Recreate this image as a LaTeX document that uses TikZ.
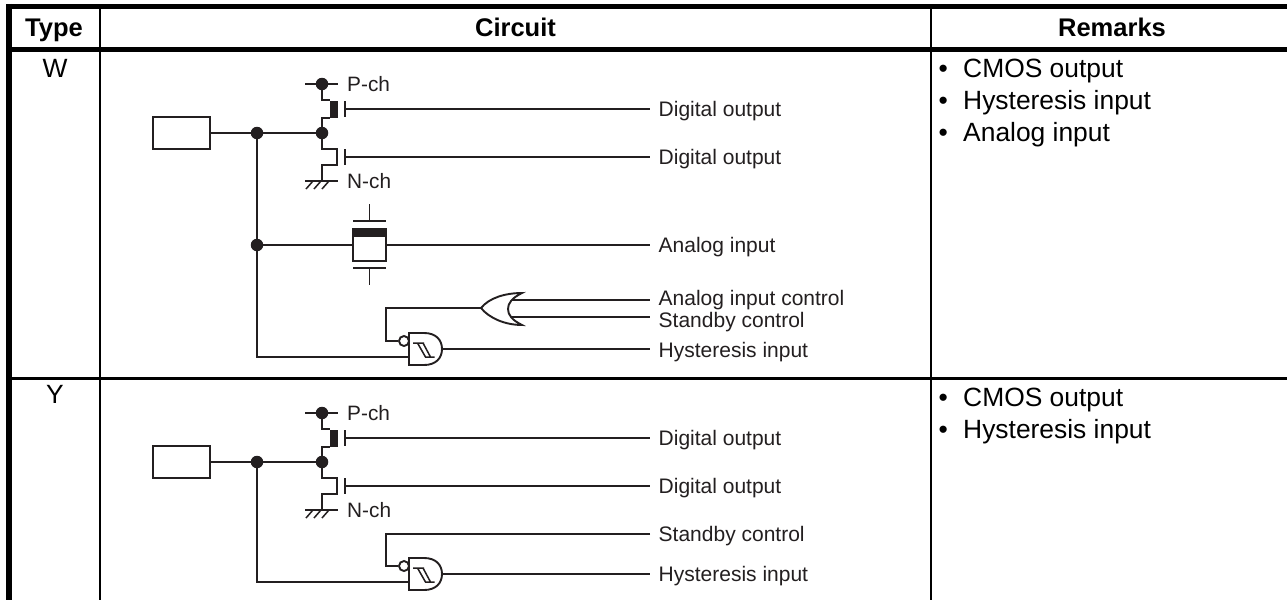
\documentclass[tikz,border=0pt]{standalone}
\usepackage{fontspec}
\setmainfont{Liberation Sans}
\tikzset{
  x=1pt,y=-1pt,
  wire/.style={line width=1.9pt,color=ink,line cap=butt,line join=miter},
  rulethin/.style={line width=2.2pt,color=black},
  rulethick/.style={line width=5.5pt,color=black},
  jdot/.style={circle,fill=ink,draw=none,minimum size=12.5pt,inner sep=0pt},
  hdr/.style={font=\fontsize{25.5}{28}\selectfont\bfseries,color=black,inner sep=0pt,text height=18.3pt,text depth=0pt},
  rem/.style={font=\fontsize{26.4}{30}\selectfont,color=black,inner sep=0pt,anchor=west,text height=18.9pt,text depth=0pt},
  lab/.style={font=\fontsize{21}{24}\selectfont,color=ink,inner sep=0pt,anchor=west,text height=15pt,text depth=0pt},
  chlab/.style={font=\fontsize{20.8}{24}\selectfont,color=ink,inner sep=0pt,anchor=west,text height=15pt,text depth=0pt},
  inbox/.style={rectangle,draw=ink,line width=1.9pt,fill=white,minimum width=57pt,minimum height=32pt,inner sep=0pt},
}
\definecolor{ink}{HTML}{231F20}
% complementary output stage shared by both rows
\newcommand{\CmosPart}{
  \node[inbox] (pad) at (181.5,133) {};
  \node[jdot] (j1) at (257,133) {};
  \node[jdot] (j2) at (322,133) {};
  \node[jdot] (vdd) at (322,84) {};
  \coordinate (vl) at (305,84); \coordinate (vr) at (338,84);
  \coordinate (gl) at (305,181); \coordinate (gr) at (338,181); \coordinate (gc) at (322,181);
  \draw[wire] (vl) -- (vr);
  \draw[wire] (pad.east) -- (j1) -- (j2);
  \node[chlab] (pch) at (347,84) {P-ch};
  \node[chlab] (nch) at (347,181) {N-ch};
  % P channel
  \node[rectangle,fill=ink,minimum width=8.5pt,minimum height=17pt,inner sep=0pt] (pbar) at (334,109) {};
  \draw[wire] (vdd) |- (pbar.north west);
  \draw[wire] (j2) |- (pbar.south west);
  \coordinate (pg1) at (345,101); \coordinate (pg2) at (345,117); \coordinate (pgm) at (345,109);
  \draw[wire] (pg1) -- (pg2);
  \coordinate (pout) at (650,109);
  \node[lab] (dop) at (658.5,109) {Digital output};
  \draw[wire] (pgm) -- (pout);
  % N channel
  \coordinate (nt) at (337,149); \coordinate (nb) at (337,165);
  \draw[wire] (j2) |- (nt) -- (nb) -| (gc);
  \coordinate (ng1) at (345,149); \coordinate (ng2) at (345,165); \coordinate (ngm) at (345,157);
  \draw[wire] (ng1) -- (ng2);
  \coordinate (nout) at (650,157);
  \node[lab] (don) at (658.5,157) {Digital output};
  \draw[wire] (ngm) -- (nout);
  % ground
  \draw[wire] (gl) -- (gr);
  \draw[wire,line width=1.5pt] (313,181) -- (306,189) (321,181) -- (314,189) (329,181) -- (322,189);
}
% hysteresis gate: #1 = y of the centre
\newcommand{\HysGate}[1]{
  \draw[wire,fill=white] (409,#1-16) -- (424,#1-16) .. controls (436,#1-16) and (442,#1-9) .. (442,#1)
     .. controls (442,#1+9) and (436,#1+16) .. (424,#1+16) -- (409,#1+16) -- cycle;
  \node[circle,draw=ink,line width=1.9pt,fill=white,minimum size=10pt,inner sep=0pt] (bub) at (404,#1-8) {};
  \coordinate (gateout) at (442,#1);
  \coordinate (gatein) at (409,#1+8);
  \draw[line width=1.5pt,color=ink] (413,#1-6) -- (424,#1-6) (417.5,#1-6) -- (425.5,#1+8) -- (434.5,#1+8) (423,#1-6) -- (430.5,#1+8);
}
\begin{document}
\begin{tikzpicture}
\useasboundingbox (0,0) rectangle (1287,600);
\fill[white] (0,0) rectangle (1287,600);
% table
\coordinate (tl) at (9,6.5); \coordinate (tr) at (1287,6.5);
\coordinate (hl) at (9,49.5); \coordinate (hr) at (1287,49.5);
\coordinate (bl) at (9,600);
\coordinate (rl) at (9,378.5); \coordinate (rr) at (1287,378.5);
\coordinate (v1t) at (100,6.5); \coordinate (v1b) at (100,600);
\coordinate (v2t) at (931,6.5); \coordinate (v2b) at (931,600);
\draw[rulethin] (v1t) -- (v1b);
\draw[rulethin] (v2t) -- (v2b);
\draw[rulethin] (rl) -- (rr);
\draw[rulethick] (tl) -- (tr);
\draw[rulethick] (hl) -- (hr);
\draw[line width=6pt] ([yshift=2.75pt]tl) -- (bl);
\node[hdr] (h1) at (54,27) {Type};
\node[hdr] (h2) at (515.5,27) {Circuit};
\node[hdr] (h3) at (1112,27) {Remarks};
\node[rem,anchor=center] (tw) at (55,68) {W};
\node[rem,anchor=center] (ty) at (55,394) {Y};
% remarks
\foreach \n/\yy/\t in {a/68/CMOS output,b/100/Hysteresis input,c/132/Analog input,d/397/CMOS output,e/429/Hysteresis input}{
  \node[rem] (b\n) at (938.5,\yy) {•};
  \node[rem] (r\n) at (963,\yy) {\t};
}
% row W
\begin{scope}[name prefix=w-]
  \CmosPart
  \node[jdot] (j3) at (257,245) {};
  \draw[wire] (j1) -- (j3);
  % analog switch
  \node[rectangle,draw=ink,line width=1.9pt,fill=white,minimum width=33pt,minimum height=32pt,inner sep=0pt] (sw) at (369.5,245) {};
  \fill[ink] (352,228) rectangle (387,237);
  \coordinate (aout) at (650,245);
  \node[lab] (la) at (658.5,245) {Analog input};
  \draw[wire] (j3) -- (sw.west);
  \draw[wire] (sw.east) -- (aout);
  \coordinate (up1) at (353,221); \coordinate (up2) at (386,221); \coordinate (up3) at (369.5,221); \coordinate (up4) at (369.5,204);
  \coordinate (lo1) at (353,268); \coordinate (lo2) at (386,268); \coordinate (lo3) at (369.5,268); \coordinate (lo4) at (369.5,285);
  \draw[wire] (up1) -- (up2) (up3) -- (up4) (lo1) -- (lo2) (lo3) -- (lo4);
  % OR gate
  \coordinate (ortip) at (481,308);
  \coordinate (oa) at (650,300); \coordinate (ob) at (650,317);
  \coordinate (oai) at (510,300); \coordinate (obi) at (510,317);
  \draw[wire] (oai) -- (oa) (obi) -- (ob);
  \draw[wire,fill=white] (ortip) .. controls (489,298) and (505,293) .. (522,293)
     .. controls (512,298) and (508,303) .. (508,309)
     .. controls (508,315) and (512,320) .. (522,325)
     .. controls (505,325) and (489,318) .. (ortip) -- cycle;
  \node[lab] (lac) at (658.5,298) {Analog input control};
  \node[lab] (lsb) at (658.5,320) {Standby control};
  \HysGate{349}
  \draw[wire] (ortip) -| (386,341) -- (bub.west);
  \draw[wire] (j3) |- (gatein);
  \coordinate (hout) at (650,349);
  \node[lab] (lh) at (658.5,349.5) {Hysteresis input};
  \draw[wire] (gateout) -- (hout);
\end{scope}
% row Y
\begin{scope}[shift={(0,329)},name prefix=y-]
  \CmosPart
  \coordinate (sout) at (650,205);
  \node[lab] (lsb) at (658.5,205) {Standby control};
  \HysGate{245}
  \draw[wire] (sout) -| (386,237) -- (bub.west);
  \draw[wire] (j1) |- (gatein);
  \coordinate (hout) at (650,245);
  \node[lab] (lh) at (658.5,244.5) {Hysteresis input};
  \draw[wire] (gateout) -- (hout);
\end{scope}
\end{tikzpicture}
\end{document}
